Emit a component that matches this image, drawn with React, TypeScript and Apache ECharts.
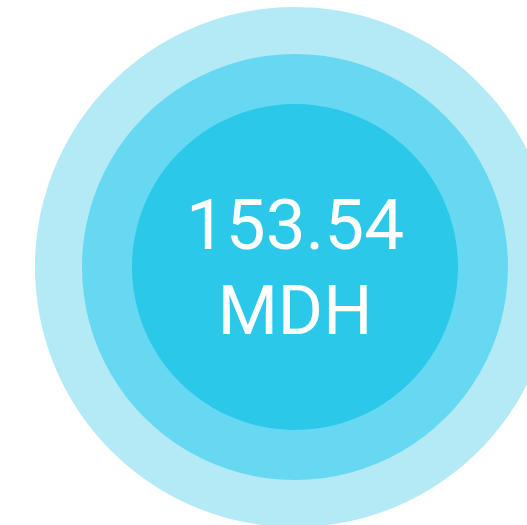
import React, { useEffect, useRef } from "react";
import * as echarts from "echarts";

const value = 153.54;
const unit = "MDH";
const ringColors = ["#b3eaf6", "#66d8f1", "#2bc8ea"];
const ringRadii = [260, 213, 163];

export default function App() {
  const ref = useRef<HTMLDivElement>(null);
  useEffect(() => {
    const chart = echarts.init(ref.current!, null, { renderer: "svg" });
    const series = ringRadii.map((r, i) => ({
      type: "pie",
      center: [295, 267],
      radius: [0, r],
      silent: true,
      z: i + 1,
      data: [{ value, name: unit, itemStyle: { color: ringColors[i] } }],
      label:
        i === ringRadii.length - 1
          ? {
              show: true,
              position: "center",
              formatter: () => `{v|${value.toFixed(2)}}\n{u|${unit}}`,
              rich: {
                v: { fontSize: 71, color: "#fff", fontFamily: "Roboto", lineHeight: 86 },
                u: { fontSize: 69, color: "#fff", fontFamily: "Roboto", lineHeight: 86 },
              },
            }
          : { show: false },
      labelLine: { show: false },
      emphasis: { disabled: true },
    }));
    chart.setOption({ animation: false, series });
    return () => chart.dispose();
  }, []);
  return <div ref={ref} style={{ width: 527, height: 525, position: "absolute", left: 0, top: 0 }} />;
}
